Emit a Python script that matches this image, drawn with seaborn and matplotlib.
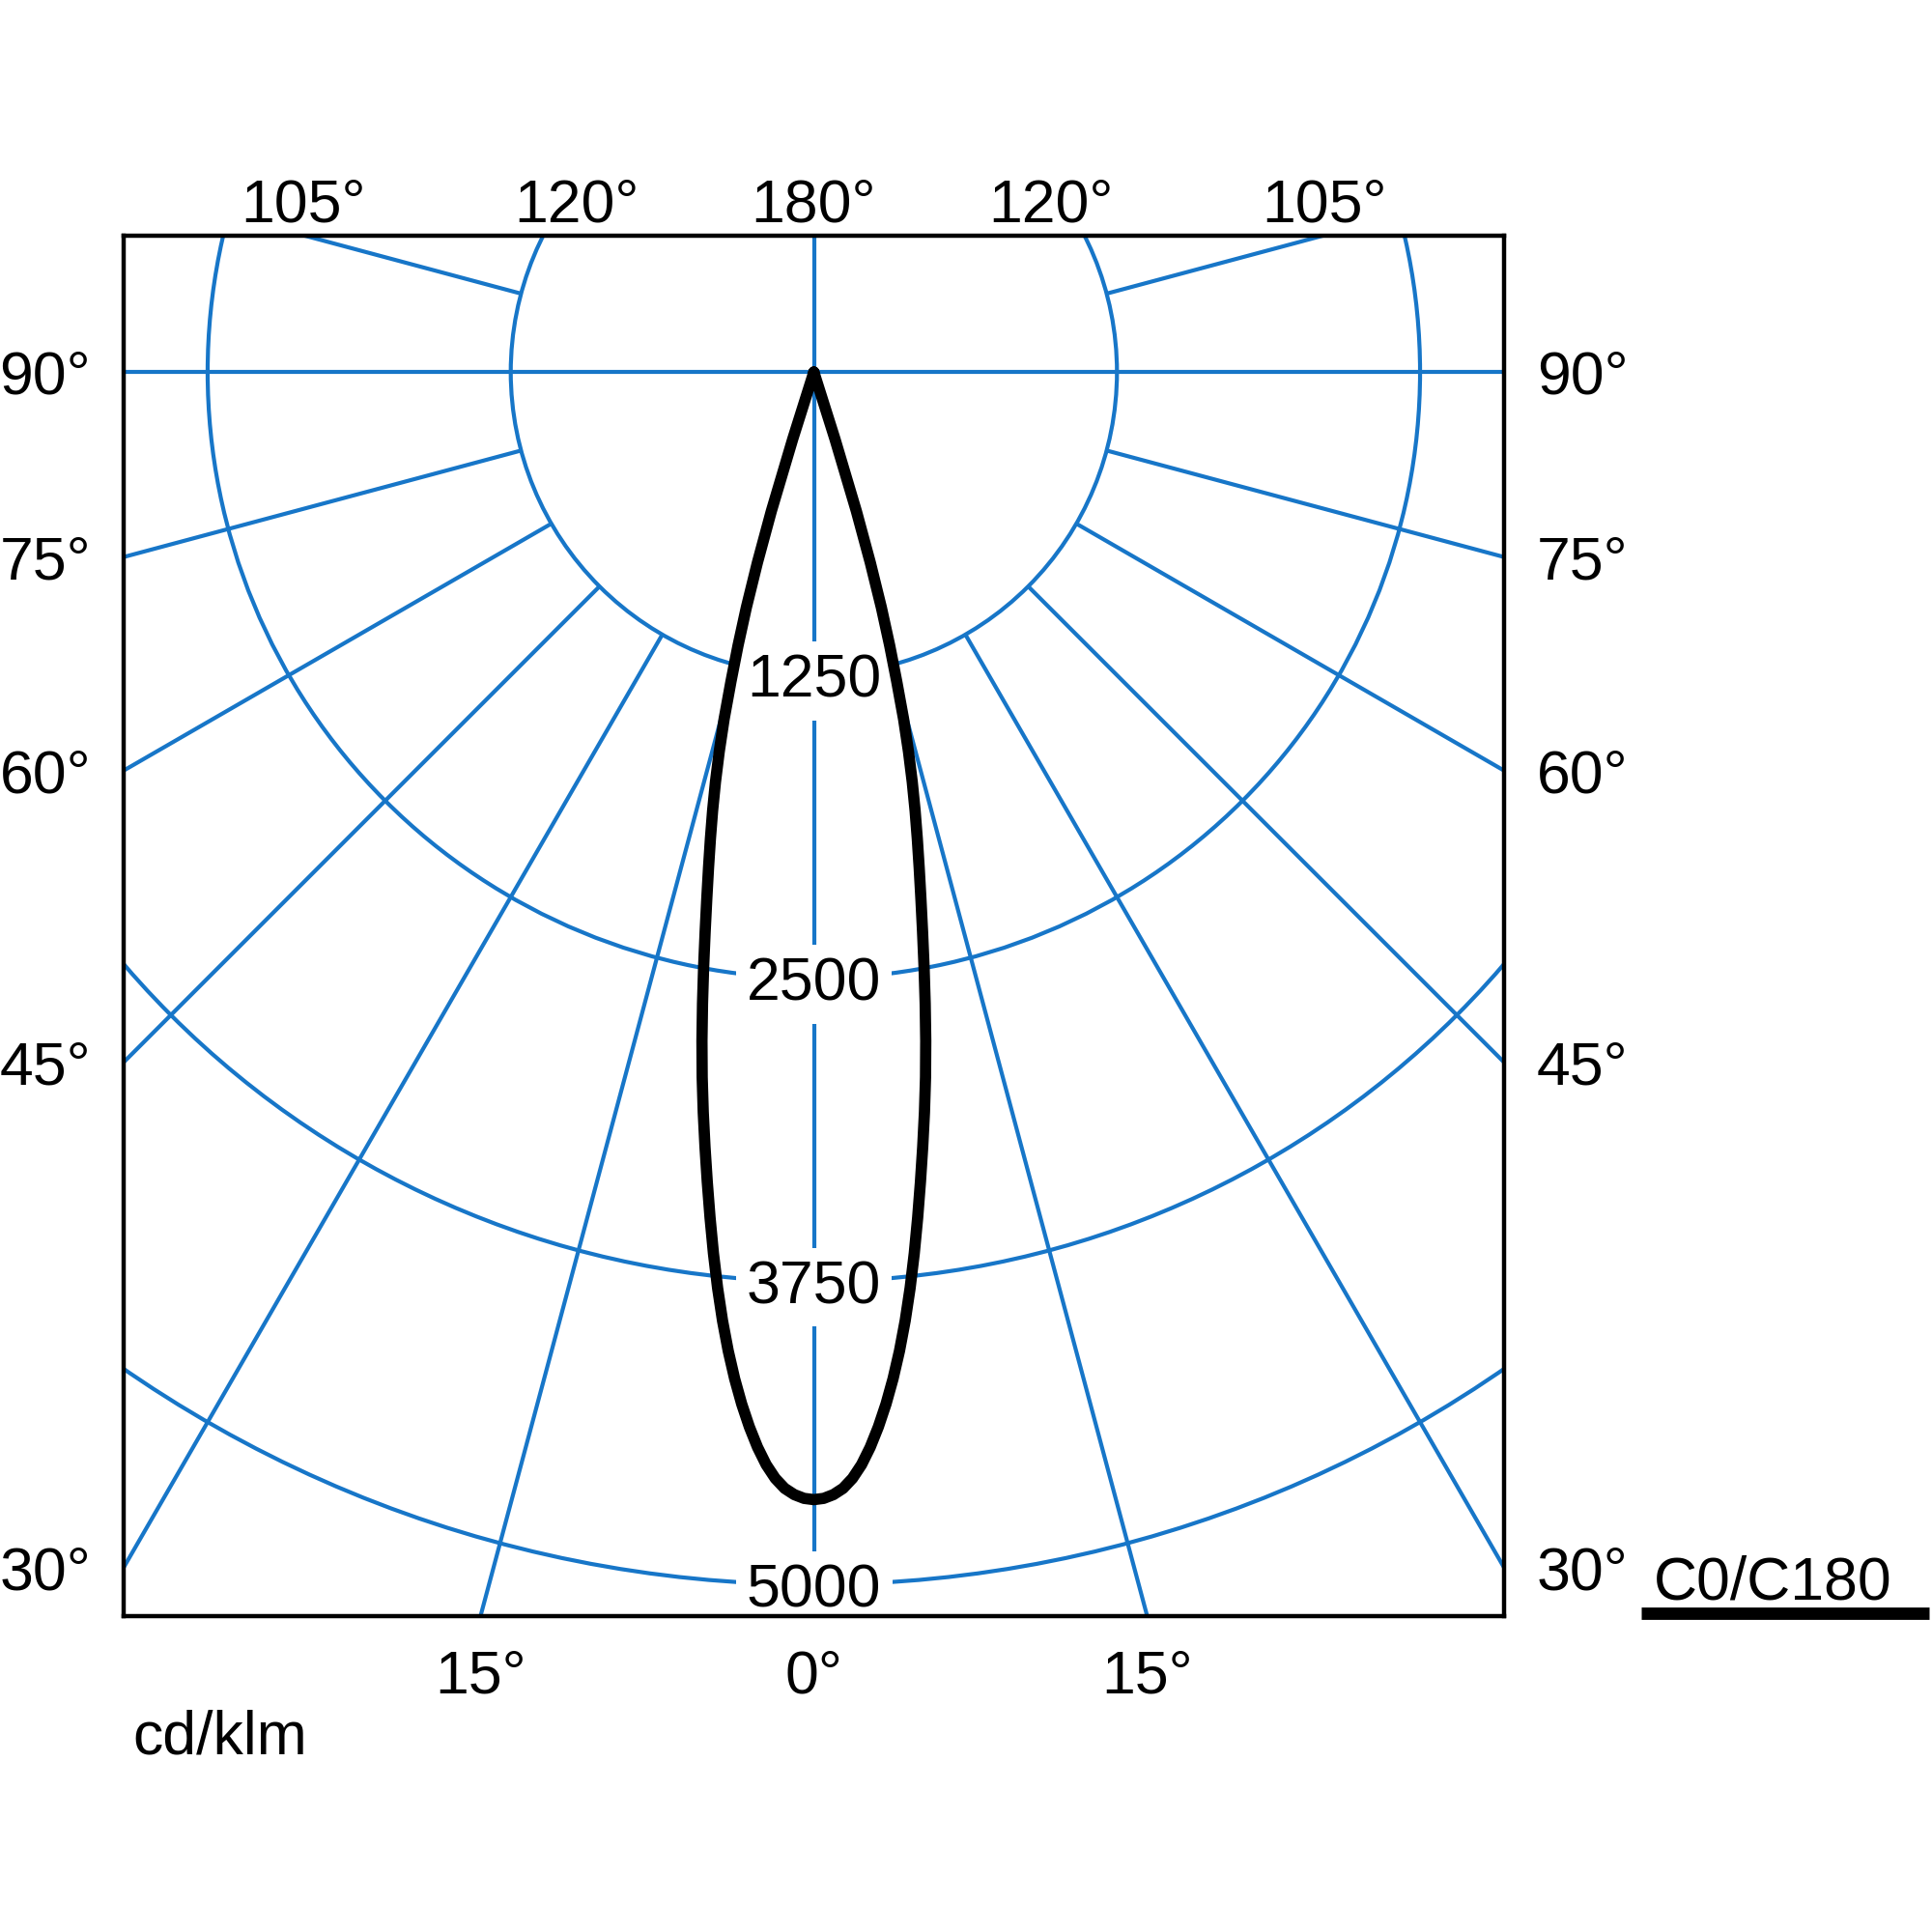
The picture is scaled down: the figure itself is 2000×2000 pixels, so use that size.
import numpy as np
import matplotlib
matplotlib.use("Agg")
import matplotlib.pyplot as plt
import seaborn as sns
from matplotlib.patches import Circle

# C0/C180 luminous intensity (cd/klm), lobe symmetric about 0 deg
gamma = [0, 0.5, 1, 1.5, 2, 2.5, 3, 3.5, 4, 4.5, 5, 5.5, 6, 6.5, 7, 7.5, 8, 8.5,
         9, 9.5, 10, 10.5, 11, 11.5, 12, 12.5, 13, 13.5, 14, 14.5, 15, 15.5,
         16, 16.5, 17, 17.5, 18]
intensity = [4650, 4645, 4630, 4605, 4565, 4510, 4440, 4358, 4266, 4164, 4052,
             3930, 3798, 3658, 3513, 3368, 3226, 3086, 2944, 2796, 2644, 2494,
             2349, 2214, 2089, 1971, 1856, 1738, 1613, 1478, 1320, 1170, 1010,
             820, 600, 290, 0]

rings = [1250, 2500, 3750, 5000]
spokes = [15, 30, 45, 60, 75, 105, 120]
top_angles = [-105, -120, 180, 120, 105]
side_angles = [90, 75, 60, 45, 30]
bottom_angles = [-15, 0, 15]

BLUE = "#1776c8"
XLIM = 2848
TOP, BOTTOM = 564, -5132

sns.set_style("white")
plt.rcParams["font.family"] = ["Liberation Sans", "DejaVu Sans"]
plt.rcParams["text.color"] = "black"

fig = plt.figure(figsize=(10, 10), dpi=200)
ax = fig.add_axes([0.0638, 0.1633, 0.7149, 0.7149])
ax.set_xlim(-XLIM, XLIM)
ax.set_ylim(BOTTOM, TOP)
ax.set_xticks([])
ax.set_yticks([])
for s in ax.spines.values():
    s.set_color("black")
    s.set_linewidth(1.6)
    s.set_zorder(5)

# polar grid
for r in rings:
    ax.add_patch(Circle((0, 0), r, fill=False, ec=BLUE, lw=1.5, zorder=1))
ax.axvline(0, color=BLUE, lw=1.5, zorder=1)
ax.axhline(0, color=BLUE, lw=1.5, zorder=1)
for a in spokes:
    for sgn in (-1, 1):
        t = np.radians(sgn * a)
        ax.plot([1250 * np.sin(t), 9000 * np.sin(t)],
                [-1250 * np.cos(t), -9000 * np.cos(t)],
                color=BLUE, lw=1.5, zorder=1, solid_capstyle="butt")

fs = 22.5
em = fs / 72 * 200 / (313.8 / 1250)   # font size in data units
base_off = 0.358 * em                  # half digit height

# ring value labels
for r in rings:
    ax.text(0, -r - 0.1 * em, str(r), ha="center", va="center", fontsize=fs,
            color="black", zorder=3,
            bbox=dict(boxstyle="square,pad=0.18", fc="white", ec="none"))

# angle labels round the box
for a in top_angles:
    t = np.radians(a)
    x = 0 if a == 180 else TOP * np.sin(t) / (-np.cos(t))
    ax.text(x, TOP + 147 - base_off, f"{abs(a)}°", ha="center", va="baseline",
            fontsize=fs, color="black", clip_on=False)
for a in side_angles:
    t = np.radians(a)
    y = -XLIM / np.tan(t)
    for sx in (-1, 1):
        ax.text(sx * (XLIM + 322), y - base_off, f"{a}°", ha="center", va="baseline",
                fontsize=fs, color="black", clip_on=False)
for a in bottom_angles:
    t = np.radians(a)
    x = -BOTTOM * np.tan(t)
    ax.text(x, BOTTOM - 226 - base_off, f"{abs(a)}°", ha="center", va="baseline",
            fontsize=fs, color="black", clip_on=False)

# intensity curve
th = np.radians([-g for g in gamma[::-1]] + gamma[1:])
iv = np.array(intensity[::-1] + intensity[1:])
sns.lineplot(x=iv * np.sin(th), y=-iv * np.cos(th), sort=False, estimator=None,
             color="black", lw=4.2, ax=ax, zorder=4)
ax.lines[-1].set_solid_joinstyle("round")

fig.text(0.0689, 0.0925, "cd/klm", fontsize=fs, color="black", ha="left", va="baseline")
fig.text(0.856, 0.172, "C0/C180", fontsize=fs, color="black", ha="left", va="baseline")
fig.add_artist(plt.Line2D([0.8495, 0.9985], [0.1652, 0.1652], color="black",
                          lw=4.6, solid_capstyle="butt"))

fig.savefig("out.png", dpi=200, facecolor="white")
